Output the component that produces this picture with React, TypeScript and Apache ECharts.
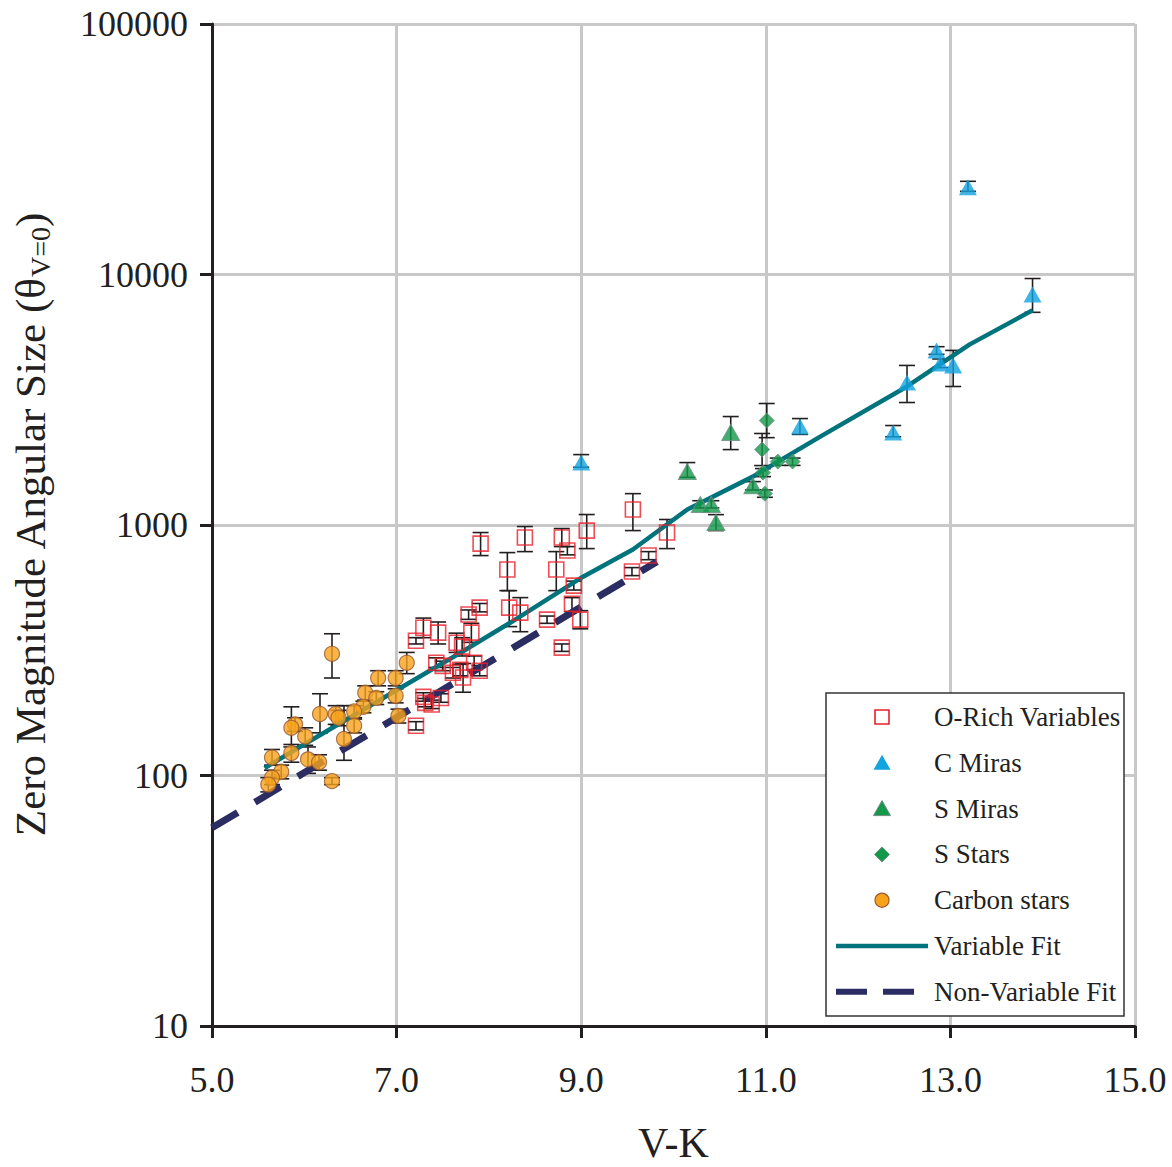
import React, { useEffect, useRef } from "react";
import * as echarts from "echarts";

// [V-K, theta, errLow, errHigh]
const oRichVariables: number[][] = [
  [7.91, 843, 755, 933], [8.39, 891, 783, 986], [8.79, 891, 820, 968], [8.85, 791, 760, 820],
  [9.06, 950, 805, 1101], [9.56, 1153, 950, 1334], [9.93, 933, 805, 1052], [9.73, 755, 727, 783],
  [9.55, 652, 628, 676], [8.2, 664, 547, 776], [8.73, 664, 547, 783], [8.92, 573, 550, 597],
  [8.9, 485, 451, 513], [8.99, 419, 385, 455], [8.63, 419, 405, 433], [8.79, 324, 313, 335],
  [8.22, 468, 393, 547], [8.34, 447, 375, 513], [7.9, 468, 450, 486], [7.78, 439, 420, 458],
  [7.81, 372, 340, 405], [7.29, 389, 355, 425], [7.45, 372, 335, 410], [7.21, 345, 335, 355],
  [7.65, 339, 310, 370], [7.71, 327, 300, 355], [7.43, 282, 270, 295], [7.5, 274, 262, 286],
  [7.61, 257, 245, 270], [7.69, 264, 250, 278], [7.72, 246, 215, 280], [7.84, 282, 265, 300],
  [7.9, 262, 250, 275], [7.29, 206, 198, 214], [7.31, 195, 188, 203], [7.38, 192, 185, 200],
  [7.48, 204, 196, 212], [7.21, 158, 152, 164],
];

const cMiras: number[][] = [
  [9.0, 1775, 1700, 1910], [11.37, 2472, 2300, 2660], [13.19, 22280, 21480, 23550],
  [13.89, 8318, 7063, 9638], [12.53, 3706, 3083, 4335], [12.38, 2339, 2250, 2495],
  [12.85, 4977, 4800, 5150], [12.89, 4416, 4250, 4600], [13.03, 4335, 3572, 4977],
];

const sMiras: number[][] = [
  [10.15, 1633, 1550, 1775], [10.62, 2339, 2000, 2710], [10.29, 1208, 1170, 1250],
  [10.41, 1208, 1170, 1250], [10.46, 1023, 950, 1100], [10.86, 1435, 1380, 1490],
];

const sStars: number[][] = [
  [11.01, 2612, 2232, 3055], [10.96, 2000, 1727, 2319], [11.13, 1791, 1730, 1850],
  [11.29, 1791, 1730, 1850], [10.97, 1618, 1560, 1680], [10.99, 1334, 1290, 1380],
];

const carbonStars: number[][] = [
  [6.3, 306, 245, 368], [6.8, 245, 228, 262], [6.99, 245, 228, 262], [7.11, 282, 255, 310],
  [6.66, 214, 200, 228], [6.78, 204, 192, 216], [6.99, 208, 195, 222], [6.64, 188, 178, 198],
  [6.54, 180, 170, 190], [6.34, 176, 160, 190], [6.37, 170, 158, 182], [6.17, 176, 148, 212],
  [6.54, 158, 148, 168], [7.02, 173, 162, 184], [5.9, 160, 150, 170], [5.86, 155, 130, 188],
  [6.01, 143, 132, 155], [6.43, 140, 115, 190], [5.86, 123, 113, 133], [5.65, 118, 110, 127],
  [6.04, 116, 102, 130], [6.16, 113, 105, 121], [5.75, 103.5, 97, 110], [5.65, 98, 92, 105],
  [5.61, 92, 86, 98], [6.3, 95, 92, 98],
];

const variableFit: number[][] = [
  [5.57, 107], [5.95, 130], [7.71, 312], [8.23, 407], [9.02, 622], [9.56, 798],
  [10.15, 1153], [10.86, 1560], [11.59, 2254], [12.53, 3573], [13.21, 5260], [13.89, 7194],
];

const nonVariableFit: number[][] = [
  [5.0, 61.8], [9.82, 714],
];

const xTicks = [5, 7, 9, 11, 13, 15];
const yTicks = [10, 100, 1000, 10000, 100000];

const legendNames = [
  "O-Rich Variables",
  "C Miras",
  "S Miras",
  "S Stars",
  "Carbon stars",
  "Variable Fit",
  "Non-Variable Fit",
];

const FONT = "'Liberation Serif', 'Times New Roman', serif";
const INK = "#231f20";
const RED = "#e8202a";
const CYAN = "#12a4e0";
const GREEN = "#12994a";
const GREEN_EDGE = "#6f8f83";
const ORANGE = "#f7a21b";
const ORANGE_EDGE = "#9a5a33";
const TEAL = "#00737c";
const NAVY = "#2b2d62";

function buildLegend() {
  const bx = 826, by = 693, bw = 298, bh = 323;
  const cx = 882;
  const rowY = (i: number) => 717 + i * 45.8;
  const Z = 100;
  const els: any[] = [
    { type: "rect", z: Z, shape: { x: bx, y: by, width: bw, height: bh }, style: { fill: "#fff", stroke: "#333", lineWidth: 1.5 } },
  ];
  let y = rowY(0);
  els.push({ type: "rect", z: Z + 1, shape: { x: cx - 7, y: y - 7, width: 14, height: 14 }, style: { fill: "none", stroke: RED, lineWidth: 1.6 } });
  y = rowY(1);
  els.push({ type: "polygon", z: Z + 1, shape: { points: [[cx, y - 8], [cx - 8.5, y + 7], [cx + 8.5, y + 7]] }, style: { fill: CYAN } });
  y = rowY(2);
  els.push({ type: "polygon", z: Z + 1, shape: { points: [[cx, y - 8], [cx - 8.5, y + 7], [cx + 8.5, y + 7]] }, style: { fill: GREEN, stroke: GREEN_EDGE, lineWidth: 1 } });
  y = rowY(3);
  els.push({ type: "polygon", z: Z + 1, shape: { points: [[cx, y - 7.5], [cx + 7.5, y], [cx, y + 7.5], [cx - 7.5, y]] }, style: { fill: GREEN, stroke: GREEN_EDGE, lineWidth: 1 } });
  y = rowY(4);
  els.push({ type: "circle", z: Z + 1, shape: { cx, cy: y, r: 7 }, style: { fill: ORANGE, stroke: ORANGE_EDGE, lineWidth: 1.2 } });
  y = rowY(5);
  els.push({ type: "line", z: Z + 1, shape: { x1: 836, y1: y, x2: 928, y2: y }, style: { stroke: TEAL, lineWidth: 4.5 } });
  y = rowY(6);
  els.push({ type: "line", z: Z + 1, shape: { x1: 836, y1: y, x2: 917, y2: y }, style: { stroke: NAVY, lineWidth: 6, lineDash: [31, 16] } });
  legendNames.forEach((name, i) => {
    els.push({
      type: "text",
      z: Z + 1,
      x: 934,
      y: rowY(i),
      style: { text: name, fontFamily: FONT, fontSize: 27, fill: INK, verticalAlign: "middle", align: "left" },
    });
  });
  return els;
}

export default function App() {
  const ref = useRef<HTMLDivElement>(null);
  useEffect(() => {
    document.body.style.margin = "0";
    const chart = echarts.init(ref.current!, null, { renderer: "svg" });
    const allErr = [...oRichVariables, ...cMiras, ...sMiras, ...sStars, ...carbonStars].map(
      (d) => [d[0], d[2], d[3]]
    );
    const pts = (arr: number[][]) => arr.map((d) => [d[0], d[1]]);
    const option: any = {
      animation: false,
      backgroundColor: "#ffffff",
      textStyle: { fontFamily: FONT },
      grid: { left: 212, right: 37, top: 24, bottom: 141, containLabel: false, outerBoundsMode: "none" },
      graphic: { elements: buildLegend() },
      xAxis: {
        type: "value",
        min: xTicks[0],
        max: xTicks[xTicks.length - 1],
        interval: 2,
        name: "V-K",
        nameLocation: "middle",
        nameGap: 96,
        nameTextStyle: { fontFamily: FONT, fontSize: 42, color: INK, lineHeight: 42 },
        axisLine: { onZero: false, lineStyle: { color: INK, width: 3 } },
        axisTick: { show: true, length: 12, lineStyle: { color: INK, width: 3 } },
        axisLabel: {
          fontFamily: FONT,
          fontSize: 36,
          color: INK,
          margin: 36,
          formatter: (v: number) => v.toFixed(1),
        },
        splitLine: { show: true, lineStyle: { color: "#c8c8c8", width: 3 } },
      },
      yAxis: {
        type: "log",
        logBase: 10,
        min: yTicks[0],
        max: yTicks[yTicks.length - 1],
        name: "{a|Zero Magnitude Angular Size (θ}{b|V=0}{a|)}",
        nameLocation: "middle",
        nameGap: 158,
        nameTextStyle: {
          fontFamily: FONT,
          color: INK,
          rich: {
            a: { fontFamily: FONT, fontSize: 43, color: INK, lineHeight: 48 },
            b: { fontFamily: FONT, fontSize: 28, color: INK, verticalAlign: "bottom", lineHeight: 48, padding: [14, 0, 0, 0] },
          },
        },
        axisLine: { onZero: false, lineStyle: { color: INK, width: 3 } },
        axisTick: { show: true, length: 12, lineStyle: { color: INK, width: 3 } },
        axisLabel: {
          fontFamily: FONT,
          fontSize: 36,
          color: INK,
          margin: 24,
          formatter: (v: number) => String(Math.round(v)),
        },
        splitLine: { show: true, lineStyle: { color: "#c8c8c8", width: 3 } },
        minorTick: { show: false },
      },
      series: [
        {
          type: "custom",
          name: "errors",
          z: 1,
          silent: true,
          data: allErr,
          encode: { x: 0, y: [1, 2] },
          renderItem: (params: any, api: any) => {
            const x = api.value(0);
            const lo = api.coord([x, api.value(1)]);
            const hi = api.coord([x, api.value(2)]);
            const w = 8;
            const st = { stroke: INK, lineWidth: 1.6 };
            return {
              type: "group",
              children: [
                { type: "line", shape: { x1: lo[0], y1: lo[1], x2: hi[0], y2: hi[1] }, style: st },
                { type: "line", shape: { x1: lo[0] - w, y1: lo[1], x2: lo[0] + w, y2: lo[1] }, style: st },
                { type: "line", shape: { x1: hi[0] - w, y1: hi[1], x2: hi[0] + w, y2: hi[1] }, style: st },
              ],
            };
          },
        },
        {
          type: "line",
          name: "Variable Fit",
          z: 2,
          data: variableFit,
          symbol: "none",
          lineStyle: { color: TEAL, width: 4.5 },
          itemStyle: { color: TEAL },
        },
        {
          type: "line",
          name: "Non-Variable Fit",
          z: 2,
          data: nonVariableFit,
          symbol: "none",
          lineStyle: { color: NAVY, width: 7, type: [30, 20] },
          itemStyle: { color: NAVY },
        },
        {
          type: "scatter",
          name: "O-Rich Variables",
          z: 3,
          data: pts(oRichVariables),
          symbol: "rect",
          symbolSize: 15,
          itemStyle: { color: "rgba(255,255,255,0)", borderColor: RED, borderWidth: 1.6 },
        },
        {
          type: "scatter",
          name: "C Miras",
          z: 3,
          data: pts(cMiras),
          symbol: "triangle",
          symbolSize: [18, 16],
          itemStyle: { color: CYAN },
        },
        {
          type: "scatter",
          name: "S Miras",
          z: 3,
          data: pts(sMiras),
          symbol: "triangle",
          symbolSize: [18, 16],
          itemStyle: { color: GREEN, borderColor: GREEN_EDGE, borderWidth: 1 },
        },
        {
          type: "scatter",
          name: "S Stars",
          z: 3,
          data: pts(sStars),
          symbol: "diamond",
          symbolSize: 15,
          itemStyle: { color: GREEN, borderColor: GREEN_EDGE, borderWidth: 1 },
        },
        {
          type: "scatter",
          name: "Carbon stars",
          z: 3,
          data: pts(carbonStars),
          symbol: "circle",
          symbolSize: 15,
          itemStyle: { color: ORANGE, borderColor: ORANGE_EDGE, borderWidth: 1.2 },
        },
      ],
    };
    chart.setOption(option);
    return () => chart.dispose();
  }, []);
  return <div ref={ref} style={{ width: 1172, height: 1167, background: "#fff" }} />;
}
